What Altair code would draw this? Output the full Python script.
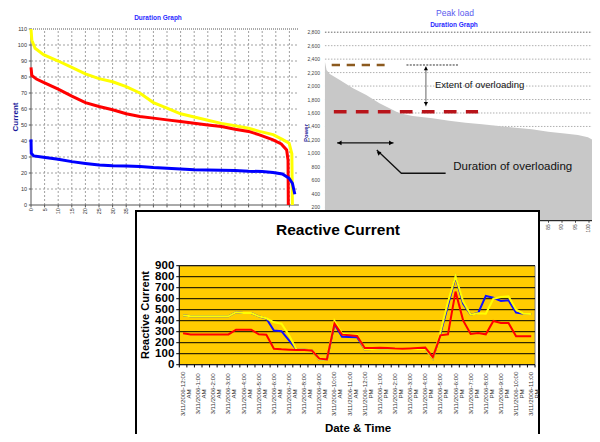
import altair as alt
import pandas as pd

FONT = "Liberation Sans"

# ---------------- Top-left: Duration Graph (Current) ----------------
tl_yellow_x = [0, 0.3, 1.5, 4.6, 10, 15, 20, 25, 30, 35, 40, 45, 50, 55, 60, 65, 70, 75, 80, 84, 89, 92.4, 94.9, 95.9, 96.1]
tl_yellow_y = [110, 103, 98, 94, 90, 86, 82, 79, 77, 74, 70, 64, 60.5, 57, 55, 53, 51, 49.5, 48, 46, 44, 41, 38.6, 32, 0]
tl_red_x = [0, 0.3, 2, 4.6, 10, 15, 20, 25, 30, 35, 40, 45, 50, 55, 60, 65, 70, 75, 80, 84, 89, 92, 94, 94.5, 94.6]
tl_red_y = [86, 81, 78.7, 76.6, 72.4, 68, 64, 61.6, 59.5, 57, 55.3, 54.3, 53.2, 52.2, 51.1, 50, 49, 47.4, 46, 43.8, 40.7, 38.2, 34.4, 28, 0]
tl_blue_x = [0, 0.1, 1, 4.6, 10, 15, 20, 25, 30, 35, 40, 45, 50, 55, 60, 65, 70, 75, 80, 85, 89, 92.4, 94.9, 96.1, 97]
tl_blue_y = [41, 32.4, 30.7, 29.9, 28.6, 27.1, 26, 25, 24.6, 24.4, 24, 23.4, 23, 22.5, 22.1, 21.9, 21.7, 21.5, 21.1, 20.9, 20.3, 19.4, 16.7, 13.6, 6.7]
tl_xticks = list(range(0, 100, 5))
tl_xlabels = list(range(0, 40, 5))
tl_yticks = list(range(0, 111, 10))

# ---------------- Top-right: Peak load ----------------
tr_area_x = [2.2, 2.8, 4.0, 7.7, 12.6, 17.5, 22.4, 26.1, 29.8, 34.7, 42.0, 48.2, 54.3, 60.4, 66.5, 72.7, 78.8, 84.9, 91.0, 95.9, 99.6, 101.5, 102.1, 102.5]
tr_area_y = [2362, 2238, 2179, 2090, 1966, 1867, 1743, 1669, 1595, 1555, 1520, 1486, 1456, 1431, 1406, 1382, 1357, 1322, 1297, 1273, 1238, 1198, 1149, 0]
tr_yticks = list(range(200, 2801, 200))
tr_xticks = list(range(0, 101, 5))
tr_xlabels = [85, 90, 95, 100]
# annotations (duration units, power)
tr_peak_level = 2313
tr_overload_level = 1620
tr_arrow_level = 1155
tr_pointer_x = [21.4, 30.5, 46.9]
tr_pointer_y = [1049, 705, 705]

# ---------------- Bottom: Reactive Current ----------------
rc_labels = ["3/11/2006-12:00 AM", "3/11/2006-1:00 AM", "3/11/2006-2:00 AM", "3/11/2006-3:00 AM",
             "3/11/2006-4:00 AM", "3/11/2006-5:00 AM", "3/11/2006-6:00 AM", "3/11/2006-7:00 AM",
             "3/11/2006-8:00 AM", "3/11/2006-9:00 AM", "3/11/2006-10:00 AM", "3/11/2006-11:00 AM",
             "3/11/2006-12:00 PM", "3/11/2006-1:00 PM", "3/11/2006-2:00 PM", "3/11/2006-3:00 PM",
             "3/11/2006-4:00 PM", "3/11/2006-5:00 PM", "3/11/2006-6:00 PM", "3/11/2006-7:00 PM",
             "3/11/2006-8:00 PM", "3/11/2006-9:00 PM", "3/11/2006-10:00 PM", "3/11/2006-11:00 PM"]
rc_hours = [h * 0.5 for h in range(47)]
rc_blue = [450, 440, 440, 440, 440, 440, 440, 477, 470, 470, 440, 420, 310, 305, 221, 136, 136, 132, 45, 45,
           370, 255, 252, 250, 140, 142, 145, 145, 143, 142, 142, 143, 143, 55, 282, 539, 797, 555, 455, 470,
           625, 609, 579, 585, 473, 464, 462]
rc_yellow = [450, 440, 440, 440, 440, 440, 440, 477, 470, 470, 440, 422, 385, 373, 267, 136, 136, 132, 45, 45,
             400, 282, 273, 270, 140, 142, 145, 145, 143, 142, 142, 143, 143, 55, 297, 570, 805, 576, 455, 468,
             464, 600, 615, 621, 500, 464, 462]
rc_red = [285, 275, 275, 275, 275, 275, 275, 318, 318, 318, 276, 273, 145, 140, 137, 133, 133, 130, 55, 48,
          375, 273, 267, 262, 151, 151, 155, 151, 147, 145, 148, 151, 155, 68, 267, 276, 665, 403, 280, 288,
          276, 397, 379, 379, 258, 258, 258]
rc_yticks = list(range(0, 901, 100))
rc_bounds = [i * 0.5 - 0.25 for i in range(48)]

# ---------------- scales (pixel ranges inside one canvas) ----------------
def sc(domain, rng):
    return alt.Scale(domain=domain, range=rng, nice=False, zero=False)

TLX = sc([0, 100], [31, 303])
TLY = sc([0, 110], [205, 29])
TRX = sc([0, 100], [319, 589])
TRY = sc([0, 2800], [220.7, 32.2])
RCX = sc([-0.25, 23.25], [179.3, 535])
RCY = sc([0, 900], [364.7, 265.7])


def qx(f, s):
    return alt.X(f, type="quantitative", scale=s, axis=None)


def qy(f, s):
    return alt.Y(f, type="quantitative", scale=s, axis=None)


def dX(v, s):
    return alt.XDatum(v, scale=s, axis=None)


def dY(v, s):
    return alt.YDatum(v, scale=s, axis=None)


ONE = pd.DataFrame({"t": [""]})


def hrules(vals, xs, ys, x0, x1, **mk):
    return alt.Chart(pd.DataFrame({"v": vals})).mark_rule(**mk).encode(
        y=qy("v", ys), x=dX(x0, xs), x2=alt.X2Datum(x1))


def vrules(vals, xs, ys, y0, y1, **mk):
    return alt.Chart(pd.DataFrame({"v": vals})).mark_rule(**mk).encode(
        x=qx("v", xs), y=dY(y0, ys), y2=alt.Y2Datum(y1))


def line(xv, yv, xs, ys, **mk):
    df = pd.DataFrame({"x": xv, "y": yv, "i": list(range(len(xv)))})
    return alt.Chart(df).mark_line(**mk).encode(x=qx("x", xs), y=qy("y", ys), order="i:Q")


def label(text, px, py, **mk):
    return alt.Chart(pd.DataFrame({"t": [text]})).mark_text(font=FONT, **mk).encode(
        text="t:N", x=alt.value(px), y=alt.value(py))


def point(xv, yv, xs, ys, **mk):
    return alt.Chart(ONE).mark_point(filled=True, color="black", opacity=1, **mk).encode(
        x=dX(xv, xs), y=dY(yv, ys))


layers = []

# ===== top-left =====
layers += [
    vrules(tl_xticks[1:], TLX, TLY, 0, 110, color="#a0a0a0", strokeDash=[2, 2], strokeWidth=1),
    hrules(tl_yticks[1:-1], TLX, TLY, 0, 98.5, color="#a0a0a0", strokeDash=[2, 2], strokeWidth=1),
    hrules([110], TLX, TLY, 0, 98.5, color="#555555", strokeDash=[1, 1], strokeWidth=1),
    vrules([0], TLX, TLY, 0, 110, color="#555555", strokeWidth=1),
    hrules([0], TLX, TLY, 0, 98.5, color="#555555", strokeWidth=1),
    vrules(tl_xticks, TLX, TLY, 0, -1.5, color="#555555", strokeWidth=1),
    hrules(tl_yticks, TLX, TLY, 0, -0.8, color="#555555", strokeWidth=1),
    alt.Chart(pd.DataFrame({"v": tl_xlabels})).mark_text(
        font=FONT, fontSize=5.5, angle=270, align="right", baseline="middle", color="#333333"
    ).encode(x=qx("v", TLX), y=dY(-2, TLY), text="v:Q"),
    alt.Chart(pd.DataFrame({"v": tl_yticks})).mark_text(
        font=FONT, fontSize=5.5, align="right", baseline="middle", dx=-4, color="#333333"
    ).encode(y=qy("v", TLY), x=dX(0, TLX), text="v:Q"),
    line(tl_yellow_x, tl_yellow_y, TLX, TLY, color="#FFFF00", strokeWidth=3),
    line(tl_red_x, tl_red_y, TLX, TLY, color="#FF0000", strokeWidth=3),
    line(tl_blue_x, tl_blue_y, TLX, TLY, color="#0000FF", strokeWidth=3),
    label("Duration Graph", 158, 18, fontSize=6.5, fontWeight="bold", color="#2a2aff"),
    label("Current", 16, 117, fontSize=8, fontWeight="bold", color="#1a1a9a", angle=270),
]

# ===== top-right =====
layers += [
    hrules(tr_yticks[:-1], TRX, TRY, 2.2, 104, color="#b0b0b0", strokeDash=[1.5, 1.5], strokeWidth=1),
    hrules([2800], TRX, TRY, 2.2, 104, color="#666666", strokeDash=[1.5, 1.5], strokeWidth=1),
    alt.Chart(pd.DataFrame({"x": tr_area_x, "y": tr_area_y})).mark_area(
        color="#C8C8C8", opacity=1).encode(x=qx("x", TRX), y=qy("y", TRY), y2=alt.Y2Datum(0)),
    hrules([0], TRX, TRY, 2.2, 103, color="#000000", strokeWidth=1),
    vrules(tr_xticks, TRX, TRY, 0, -30, color="#444444", strokeWidth=1),
    alt.Chart(pd.DataFrame({"v": tr_xlabels})).mark_text(
        font=FONT, fontSize=4.8, angle=270, align="right", baseline="middle", color="#444444"
    ).encode(x=qx("v", TRX), y=dY(-55, TRY), text="v:Q"),
    alt.Chart(pd.DataFrame({"v": tr_yticks})).mark_text(
        font=FONT, fontSize=5, align="right", baseline="middle", dx=-5, color="#444444"
    ).encode(y=qy("v", TRY), x=dX(2.2, TRX), text=alt.Text("v:Q", format=",")),
    # annotations
    hrules([tr_peak_level], TRX, TRY, 4.7, 24.3, color="#8C5A1E", strokeWidth=2.3, strokeDash=[8.3, 6.7]),
    hrules([tr_peak_level], TRX, TRY, 32.4, 51.8, color="#333333", strokeWidth=1, strokeDash=[2, 1.3]),
    vrules([39.6], TRX, TRY, 2290, 1700, color="#666666", strokeWidth=1),
    point(39.6, 2262, TRX, TRY, shape="triangle-up", size=18),
    point(39.6, 1735, TRX, TRY, shape="triangle-down", size=18),
    label("Extent of overloading", 435, 85, fontSize=9.5, align="left", baseline="middle", color="#111111"),
    hrules([tr_overload_level], TRX, TRY, 5.5, 58.9, color="#B8141A", strokeWidth=3.5, strokeDash=[12.7, 9.3]),
    hrules([tr_arrow_level], TRX, TRY, 6.7, 27.6, color="#111111", strokeWidth=1.3),
    point(7.6, tr_arrow_level, TRX, TRY, shape="triangle-left", size=22),
    point(26.7, tr_arrow_level, TRX, TRY, shape="triangle-right", size=22),
    line(tr_pointer_x, tr_pointer_y, TRX, TRY, color="#111111", strokeWidth=1.3),
    point(22.0, 1010, TRX, TRY, shape="triangle-up", size=22, angle=308),
    label("Duration of overloading", 453.3, 166.7, fontSize=11.5, align="left", baseline="middle", color="#111111"),
    label("Peak load", 455, 12.5, fontSize=8.5, color="#5a5aee"),
    label("Duration Graph", 454, 25, fontSize=6.5, fontWeight="bold", color="#2a2aff"),
    label("Power", 306, 133, fontSize=6, fontWeight="bold", color="#1a1a9a", angle=270),
]

# ===== bottom: Reactive Current =====
rc_long = pd.DataFrame({"h": rc_hours, "blue": rc_blue, "yellow": rc_yellow, "red": rc_red})
layers += [
    alt.Chart(ONE).mark_rect(fill="white", stroke="black", strokeWidth=2).encode(
        x=alt.value(136), x2=alt.value(539), y=alt.value(211), y2=alt.value(470)),
    alt.Chart(ONE).mark_rect(fill="#FFCC00", stroke="#808080", strokeWidth=1).encode(
        x=dX(-0.25, RCX), x2=alt.X2Datum(23.25), y=dY(0, RCY), y2=alt.Y2Datum(900)),
    hrules(rc_yticks[1:], RCX, RCY, -0.25, 23.25, color="#000000", strokeWidth=1),
    vrules([-0.25], RCX, RCY, 0, 900, color="#000000", strokeWidth=1),
    hrules([0], RCX, RCY, -0.25, 23.25, color="#000000", strokeWidth=1),
    vrules(rc_bounds, RCX, RCY, 0, -25, color="#000000", strokeWidth=1),
    hrules(rc_yticks, RCX, RCY, -0.25, -0.45, color="#000000", strokeWidth=1),
    alt.Chart(rc_long).mark_line(color="#1010FF", strokeWidth=2).encode(x=qx("h", RCX), y=qy("blue", RCY)),
    alt.Chart(rc_long).mark_line(color="#FFFF00", strokeWidth=2).encode(x=qx("h", RCX), y=qy("yellow", RCY)),
    alt.Chart(rc_long).mark_line(color="#FF0000", strokeWidth=2).encode(x=qx("h", RCX), y=qy("red", RCY)),
    alt.Chart(pd.DataFrame({"v": rc_yticks})).mark_text(
        font=FONT, fontSize=11.5, fontWeight="bold", align="right", baseline="middle", dx=-5, color="#000000"
    ).encode(y=qy("v", RCY), x=dX(-0.25, RCX), text="v:Q"),
    alt.Chart(pd.DataFrame({"h": list(range(24)), "t": rc_labels})).mark_text(
        font=FONT, fontSize=6.2, angle=270, align="center", baseline="middle", lineBreak=" ",
        lineHeight=6, color="#333333"
    ).encode(x=qx("h", RCX), y=dY(-266, RCY), text="t:N"),
    label("Reactive Current", 338, 230, fontSize=15.5, fontWeight="bold", color="#000000"),
    label("Reactive Current", 146, 315, fontSize=11, fontWeight="bold", color="#000000", angle=270),
    label("Date & Time", 358, 428.5, fontSize=11.5, fontWeight="bold", color="#000000"),
]

chart = alt.layer(*layers).resolve_scale(x="independent", y="independent").properties(
    width=600, height=442,
    autosize=alt.AutoSizeParams(type="none"),
    padding={"left": -8, "top": -8, "right": -8, "bottom": -8},
    background="white",
).configure_view(strokeWidth=0)

chart.save("out.html", embed_options={"renderer": "svg", "actions": False})
